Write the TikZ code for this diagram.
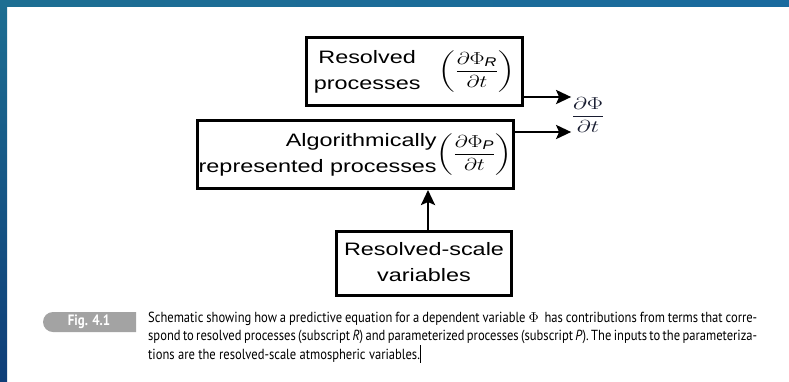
\documentclass[tikz,border=0pt]{standalone}
\usepackage{amsmath}
\usepackage{graphicx}
\usepackage{fontspec}
\setmainfont{Liberation Sans}
\newfontfamily\capfont[FakeStretch=0.86]{PT Sans}
\usetikzlibrary{arrows.meta}
\definecolor{bandA}{HTML}{1D6E92}
\definecolor{bandB}{HTML}{0F3E78}
\definecolor{bandC}{HTML}{1A6A9E}
\definecolor{tabgray}{HTML}{A3A3A3}
\definecolor{outcol}{HTML}{181C30}
\begin{document}
\begin{tikzpicture}[x=1pt,y=-1pt,
  box/.style={draw, line width=3pt, inner sep=0pt, align=center,
    font=\fontsize{18}{26}\selectfont},
  arr/.style={line width=2.6pt, -{Stealth[length=15pt,width=14pt,inset=3pt]}},
  captext/.style={inner sep=0pt, text width=609pt, align=justify,
    font=\capfont\fontsize{14.6}{18.3}\selectfont}]
\useasboundingbox (0,0) rectangle (789,381);
\fill[white] (0,0) rectangle (789,381);
\shade[top color=bandA, bottom color=bandB] (0,0) rectangle (7,381);
\shade[left color=bandA, right color=bandC] (0,0) rectangle (789,6.5);

% boxes
\node[box, minimum width=216pt, minimum height=68pt] (R) at (414.5,71.5)
  {\scalebox{1.3}[1]{\begin{tabular}{@{}c@{}}Resolved\\processes\end{tabular}\hspace{14pt}%
   $\left(\dfrac{\partial\Phi_{\text{\itshape R}}}{\partial t}\right)$}};
\node[box, minimum width=316pt, minimum height=68pt] (P) at (355.5,154.5)
  {\scalebox{1.3}[1]{\begin{tabular}{@{}r@{}}Algorithmically\\represented processes\end{tabular}%
   $\left(\dfrac{\partial\Phi_{\text{\itshape P}}}{\partial t}\right)$}};
\node[box, minimum width=175pt, minimum height=64pt] (V) at (424,263.5)
  {\scalebox{1.3}[1]{\begin{tabular}{@{}c@{}}Resolved-scale\\variables\end{tabular}}};

% result
\node[inner sep=0pt, font=\fontsize{18}{22}\selectfont, text=outcol] (out) at (588,115)
  {\scalebox{1.4}[1]{$\dfrac{\partial\Phi}{\partial t}$}};

% connectors
\draw[arr] ([yshift=-25.5pt]R.east) -- ([yshift=-25.5pt]R.east -| out.west);
\draw[arr] ([yshift=22.5pt]P.east) -- ([yshift=22.5pt]P.east -| out.west);
\draw[arr] ([xshift=4pt]V.north) -- ([xshift=4pt]V.north |- P.south);

% caption tab
\fill[tabgray] (136,312) [rounded corners=10pt] -- (43,312) -- (43,332) [sharp corners] -- (136,332) -- cycle;
\node[text=white, font=\capfont\bfseries\fontsize{15}{17}\selectfont] (fig) at (89,322) {Fig. 4.1};

% caption
\node[captext, anchor=north west] (cap) at (148,312)
  {Schematic showing how a predictive equation for a dependent variable $\Phi$\ \ has contributions from terms that corre-\linebreak
   spond to resolved processes (subscript \textit{R}) and parameterized processes (subscript \textit{P}). The inputs to the parameteriza-\linebreak
   tions are the resolved-scale atmospheric variables.\kern0.5pt\rule[-0.25em]{0.6pt}{1.2em}};
\end{tikzpicture}
\end{document}
